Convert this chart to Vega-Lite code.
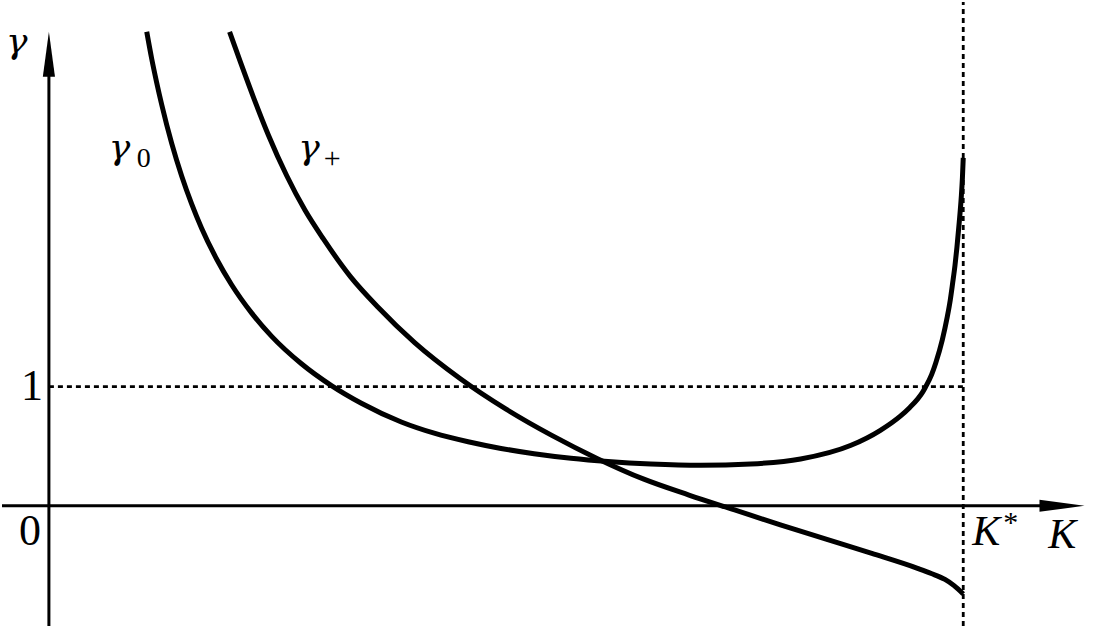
{
  "$schema": "https://vega.github.io/schema/vega-lite/v6.json",
  "width": 1112,
  "height": 628,
  "autosize": {"type": "fit", "contains": "padding"},
  "padding": 0,
  "background": "white",
  "config": {"view": {"stroke": null}},
  "datasets": {
    "curves": [
      {"curve": "g0", "K": 0.1070, "g": 3.975},
      {"curve": "g0", "K": 0.1124, "g": 3.750},
      {"curve": "g0", "K": 0.1179, "g": 3.548},
      {"curve": "g0", "K": 0.1234, "g": 3.363},
      {"curve": "g0", "K": 0.1343, "g": 3.039},
      {"curve": "g0", "K": 0.1452, "g": 2.766},
      {"curve": "g0", "K": 0.1561, "g": 2.532},
      {"curve": "g0", "K": 0.1670, "g": 2.328},
      {"curve": "g0", "K": 0.1834, "g": 2.070},
      {"curve": "g0", "K": 0.1998, "g": 1.854},
      {"curve": "g0", "K": 0.2216, "g": 1.618},
      {"curve": "g0", "K": 0.2434, "g": 1.423},
      {"curve": "g0", "K": 0.2762, "g": 1.191},
      {"curve": "g0", "K": 0.3090, "g": 1.008},
      {"curve": "g0", "K": 0.3417, "g": 0.860},
      {"curve": "g0", "K": 0.3854, "g": 0.703},
      {"curve": "g0", "K": 0.4214, "g": 0.609},
      {"curve": "g0", "K": 0.4585, "g": 0.537},
      {"curve": "g0", "K": 0.4945, "g": 0.481},
      {"curve": "g0", "K": 0.5306, "g": 0.436},
      {"curve": "g0", "K": 0.5710, "g": 0.398},
      {"curve": "g0", "K": 0.6114, "g": 0.371},
      {"curve": "g0", "K": 0.6583, "g": 0.350},
      {"curve": "g0", "K": 0.7129, "g": 0.339},
      {"curve": "g0", "K": 0.7675, "g": 0.350},
      {"curve": "g0", "K": 0.8221, "g": 0.392},
      {"curve": "g0", "K": 0.8766, "g": 0.505},
      {"curve": "g0", "K": 0.9094, "g": 0.633},
      {"curve": "g0", "K": 0.9312, "g": 0.752},
      {"curve": "g0", "K": 0.9416, "g": 0.825},
      {"curve": "g0", "K": 0.9498, "g": 0.892},
      {"curve": "g0", "K": 0.9547, "g": 0.942},
      {"curve": "g0", "K": 0.9585, "g": 0.992},
      {"curve": "g0", "K": 0.9654, "g": 1.100},
      {"curve": "g0", "K": 0.9700, "g": 1.200},
      {"curve": "g0", "K": 0.9771, "g": 1.392},
      {"curve": "g0", "K": 0.9825, "g": 1.583},
      {"curve": "g0", "K": 0.9858, "g": 1.725},
      {"curve": "g0", "K": 0.9884, "g": 1.867},
      {"curve": "g0", "K": 0.9910, "g": 2.017},
      {"curve": "g0", "K": 0.9931, "g": 2.167},
      {"curve": "g0", "K": 0.9956, "g": 2.375},
      {"curve": "g0", "K": 0.9978, "g": 2.583},
      {"curve": "g0", "K": 0.9991, "g": 2.750},
      {"curve": "g0", "K": 1.0, "g": 2.917},
      {"curve": "gp", "K": 0.1976, "g": 3.975},
      {"curve": "gp", "K": 0.21, "g": 3.71},
      {"curve": "gp", "K": 0.225, "g": 3.40},
      {"curve": "gp", "K": 0.24, "g": 3.11},
      {"curve": "gp", "K": 0.26, "g": 2.77},
      {"curve": "gp", "K": 0.28, "g": 2.48},
      {"curve": "gp", "K": 0.30, "g": 2.24},
      {"curve": "gp", "K": 0.33, "g": 1.92},
      {"curve": "gp", "K": 0.36, "g": 1.665},
      {"curve": "gp", "K": 0.40, "g": 1.368},
      {"curve": "gp", "K": 0.45, "g": 1.065},
      {"curve": "gp", "K": 0.50, "g": 0.81},
      {"curve": "gp", "K": 0.55, "g": 0.59},
      {"curve": "gp", "K": 0.60, "g": 0.395},
      {"curve": "gp", "K": 0.65, "g": 0.225},
      {"curve": "gp", "K": 0.70, "g": 0.09},
      {"curve": "gp", "K": 0.75, "g": -0.035},
      {"curve": "gp", "K": 0.80, "g": -0.16},
      {"curve": "gp", "K": 0.85, "g": -0.28},
      {"curve": "gp", "K": 0.90, "g": -0.40},
      {"curve": "gp", "K": 0.95, "g": -0.525},
      {"curve": "gp", "K": 0.965, "g": -0.568},
      {"curve": "gp", "K": 0.98, "g": -0.618},
      {"curve": "gp", "K": 0.99, "g": -0.67},
      {"curve": "gp", "K": 1.0, "g": -0.74}
    ],
    "axes": [
      {"name": "K axis", "x1": -0.0513, "y1": 0, "x2": 1.095, "y2": 0},
      {"name": "gamma axis", "x1": 0, "y1": -1.0083, "x2": 0, "y2": 3.725}
    ],
    "guides": [
      {"name": "gamma = 1", "x1": 0, "y1": 1, "x2": 1, "y2": 1},
      {"name": "K = K*", "x1": 1, "y1": -1.0083, "x2": 1, "y2": 4.225}
    ],
    "arrows": [
      {"name": "gamma arrow", "K": 0, "g": 3.7875, "angle": 0},
      {"name": "K arrow", "K": 1.108, "g": 0, "angle": 90}
    ],
    "gammas": [
      {"text": "γ", "K": -0.0470, "g": 3.8, "size": 36},
      {"text": "γ", "K": 0.0655, "g": 2.908, "size": 36},
      {"text": "γ", "K": 0.2727, "g": 2.908, "size": 36}
    ],
    "italic": [
      {"text": "K", "K": 1.0098, "g": -0.333, "size": 42},
      {"text": "K", "K": 1.093, "g": -0.358, "size": 42}
    ],
    "upright": [
      {"text": "1", "K": -0.0306, "g": 0.883, "size": 44},
      {"text": "0", "K": -0.0328, "g": -0.333, "size": 44},
      {"text": "*", "K": 1.0437, "g": -0.22, "size": 30},
      {"text": "0", "K": 0.0960, "g": 2.842, "size": 28},
      {"text": "+", "K": 0.3005, "g": 2.833, "size": 30}
    ]
  },
  "layer": [
    {
      "data": {"name": "guides"},
      "mark": {"type": "rule", "color": "black", "strokeWidth": 2.8, "strokeDash": [5, 4]},
      "encoding": {
        "x": {"field": "x1", "type": "quantitative", "scale": {"domain": [-0.0513, 1.1627], "nice": false, "zero": false}, "axis": null},
        "y": {"field": "y1", "type": "quantitative", "scale": {"domain": [-1.0083, 4.225], "nice": false, "zero": false}, "axis": null},
        "x2": {"field": "x2"},
        "y2": {"field": "y2"}
      }
    },
    {
      "data": {"name": "axes"},
      "mark": {"type": "rule", "color": "black", "strokeWidth": 3},
      "encoding": {
        "x": {"field": "x1", "type": "quantitative", "scale": {"domain": [-0.0513, 1.1627], "nice": false, "zero": false}, "axis": null},
        "y": {"field": "y1", "type": "quantitative", "scale": {"domain": [-1.0083, 4.225], "nice": false, "zero": false}, "axis": null},
        "x2": {"field": "x2"},
        "y2": {"field": "y2"}
      }
    },
    {
      "data": {"name": "arrows"},
      "mark": {"type": "point", "filled": true, "color": "black", "opacity": 1, "shape": "M0,-1L0.27,1L-0.27,1Z", "size": 2025},
      "encoding": {
        "x": {"field": "K", "type": "quantitative", "scale": {"domain": [-0.0513, 1.1627], "nice": false, "zero": false}, "axis": null},
        "y": {"field": "g", "type": "quantitative", "scale": {"domain": [-1.0083, 4.225], "nice": false, "zero": false}, "axis": null},
        "angle": {"field": "angle", "type": "quantitative", "scale": null}
      }
    },
    {
      "data": {"name": "curves"},
      "mark": {"type": "line", "color": "black", "strokeWidth": 5, "interpolate": "monotone", "strokeCap": "butt"},
      "encoding": {
        "x": {"field": "K", "type": "quantitative", "scale": {"domain": [-0.0513, 1.1627], "nice": false, "zero": false}, "axis": null},
        "y": {"field": "g", "type": "quantitative", "scale": {"domain": [-1.0083, 4.225], "nice": false, "zero": false}, "axis": null},
        "detail": {"field": "curve", "type": "nominal"}
      }
    },
    {
      "data": {"name": "gammas"},
      "mark": {"type": "text", "color": "black", "font": "DejaVu Serif", "fontStyle": "italic", "baseline": "alphabetic", "align": "left"},
      "encoding": {
        "x": {"field": "K", "type": "quantitative", "scale": {"domain": [-0.0513, 1.1627], "nice": false, "zero": false}, "axis": null},
        "y": {"field": "g", "type": "quantitative", "scale": {"domain": [-1.0083, 4.225], "nice": false, "zero": false}, "axis": null},
        "text": {"field": "text"},
        "size": {"field": "size", "type": "quantitative", "scale": null}
      }
    },
    {
      "data": {"name": "italic"},
      "mark": {"type": "text", "color": "black", "font": "Liberation Serif", "fontStyle": "italic", "baseline": "alphabetic", "align": "left"},
      "encoding": {
        "x": {"field": "K", "type": "quantitative", "scale": {"domain": [-0.0513, 1.1627], "nice": false, "zero": false}, "axis": null},
        "y": {"field": "g", "type": "quantitative", "scale": {"domain": [-1.0083, 4.225], "nice": false, "zero": false}, "axis": null},
        "text": {"field": "text"},
        "size": {"field": "size", "type": "quantitative", "scale": null}
      }
    },
    {
      "data": {"name": "upright"},
      "mark": {"type": "text", "color": "black", "font": "Liberation Serif", "baseline": "alphabetic", "align": "left"},
      "encoding": {
        "x": {"field": "K", "type": "quantitative", "scale": {"domain": [-0.0513, 1.1627], "nice": false, "zero": false}, "axis": null},
        "y": {"field": "g", "type": "quantitative", "scale": {"domain": [-1.0083, 4.225], "nice": false, "zero": false}, "axis": null},
        "text": {"field": "text"},
        "size": {"field": "size", "type": "quantitative", "scale": null}
      }
    }
  ]
}
